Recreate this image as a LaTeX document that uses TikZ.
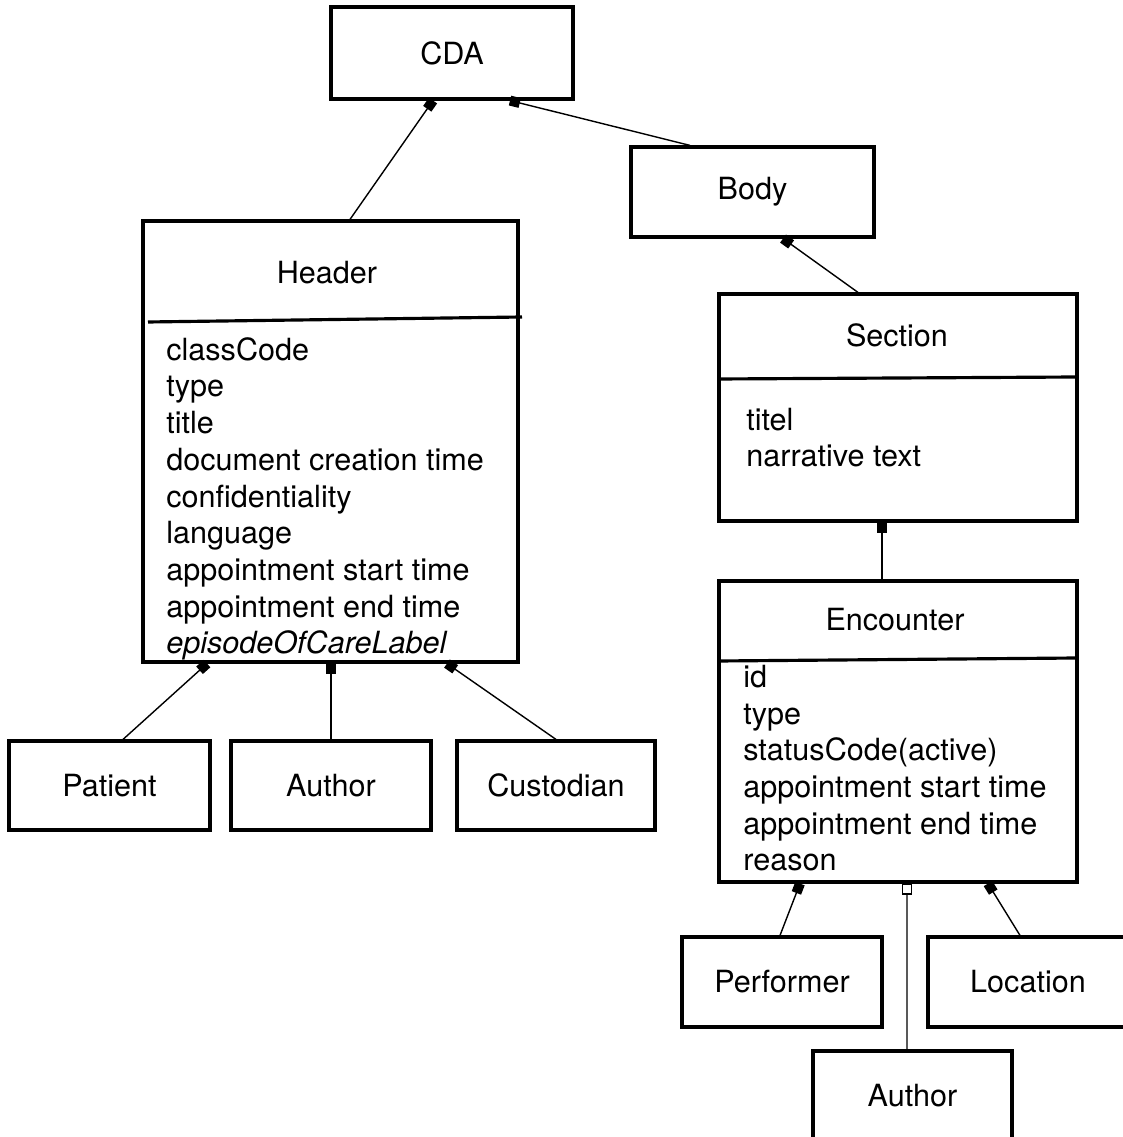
\documentclass[tikz,border=0pt]{standalone}
\usepackage{fontspec}
\setmainfont{TeX Gyre Heros}
\usetikzlibrary{arrows.meta}

\begin{document}
\begin{tikzpicture}[
    box/.style={draw, line width=1.8pt, inner sep=0pt, font=\fontsize{17.4}{21}\selectfont},
    title/.style={inner sep=0pt, font=\fontsize{17.4}{21}\selectfont},
    attr/.style={anchor=base west, align=left, inner sep=0pt, font=\fontsize{17.4}{20.9}\selectfont},
    link/.style={line width=0.8pt, -{Square[length=2mm, width=2mm]}},
    openlink/.style={line width=0.8pt, -{Square[open, length=2.2mm, width=2mm, fill=white]}}
]

    % Canvas
    \useasboundingbox (0, 0) rectangle (22.46, 22.74);
    \clip (0, 0) rectangle (22.46, 22.74);

    % Document root and body
    \node[box, minimum width=4.84cm, minimum height=1.84cm] (cda) at (9.04, 21.68) {CDA};
    \node[box, minimum width=4.86cm, minimum height=1.80cm] (body) at (15.05, 18.90) {Body};

    % Header class (attribute node sits on its last baseline)
    \node[box, minimum width=7.50cm, minimum height=8.82cm] (hdr) at (6.61, 13.91) {};
    \node[title] (hdrtitle) at (6.54, 17.28) {Header};
    \draw[line width=1.8pt] (2.96, 16.30) -- (10.44, 16.40);
    \node[attr] (hdrattr) at (3.32, 9.66) {classCode\\type\\title\\document creation time\\confidentiality\\language\\appointment start time\\appointment end time\\\itshape episodeOfCareLabel};

    % Section class
    \node[box, minimum width=7.16cm, minimum height=4.54cm] (sec) at (17.96, 14.59) {};
    \node[title] (sectitle) at (17.94, 16.04) {Section};
    \draw[line width=1.8pt] (14.38, 15.16) -- (21.54, 15.20);
    \node[attr] (secattr) at (14.92, 13.40) {titel\\narrative text};

    % Encounter class
    \node[box, minimum width=7.16cm, minimum height=6.02cm] (enc) at (17.96, 8.11) {};
    \node[title] (enctitle) at (17.90, 10.34) {Encounter};
    \draw[line width=1.8pt] (14.38, 9.52) -- (21.54, 9.58);
    \node[attr] (encattr) at (14.86, 5.32) {id\\type\\statusCode(active)\\appointment start time\\appointment end time\\reason};

    % Header participants
    \node[box, minimum width=4.02cm, minimum height=1.78cm] (patient) at (2.19, 7.03) {Patient};
    \node[box, minimum width=4.00cm, minimum height=1.78cm] (author) at (6.62, 7.03) {Author};
    \node[box, minimum width=3.96cm, minimum height=1.78cm] (custodian) at (11.12, 7.03) {Custodian};

    % Encounter participants
    \node[box, minimum width=4.00cm, minimum height=1.80cm] (performer) at (15.64, 3.10) {Performer};
    \node[box, minimum width=4.00cm, minimum height=1.80cm] (location) at (20.56, 3.10) {Location};
    \node[box, minimum width=3.98cm, minimum height=1.80cm] (encauthor) at (18.25, 0.82) {Author};

    % Compositions
    \draw[link] ([xshift=3.9mm]hdr.north) -- ([xshift=-3.8mm]cda.south);
    \draw[link] ([xshift=-12.5mm]body.north) -- ([xshift=11.6mm]cda.south);
    \draw[link] ([xshift=-8mm]sec.north) -- ([xshift=6.1mm]body.south);
    \draw[link] ([xshift=-3.2mm]enc.north) -- ([xshift=-3.2mm]sec.south);

    \draw[link] ([xshift=2.7mm]patient.north) -- ([xshift=-24.7mm]hdr.south);
    \draw[link] (author.north) -- (hdr.south -| author.north);
    \draw[link] (custodian.north) -- ([xshift=23.3mm]hdr.south);

    \draw[link] ([xshift=-0.4mm]performer.north) -- ([xshift=-19.6mm]enc.south);
    \draw[link] ([xshift=-1.6mm]location.north) -- ([xshift=18mm]enc.south);
    \draw[openlink] ([xshift=-1.1mm]encauthor.north) -- ([xshift=1.8mm]enc.south);

\end{tikzpicture}
\end{document}
